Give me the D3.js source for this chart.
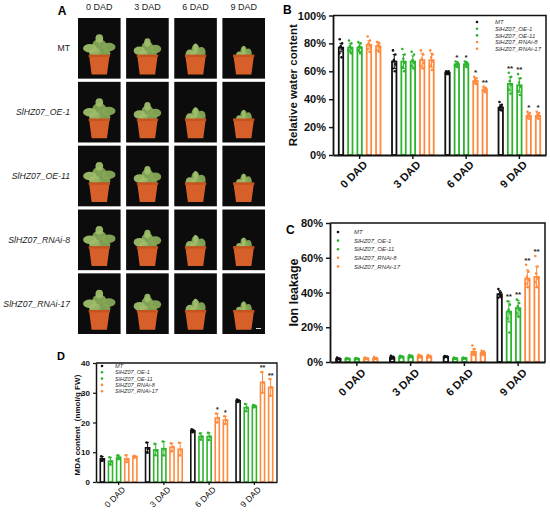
<!DOCTYPE html>
<html><head><meta charset="utf-8">
<script src="https://cdn.jsdelivr.net/npm/d3@7"></script>
<style>body{margin:0;background:#fff}svg{display:block}</style>
</head><body>
<svg id="c" width="550" height="513"></svg>
<script>
// ---------- data ----------
const days = ["0 DAD","3 DAD","6 DAD","9 DAD"];
const lines = ["MT","SlHZ07_OE-1","SlHZ07_OE-11","SlHZ07_RNAi-8","SlHZ07_RNAi-17"];
const lineColors = ["#111111","#2db52d","#2db52d","#ff8a3d","#ff8a3d"];

// B: relative water content (%)
const rwcMean = [[77,77,77,79,78],[67,67,67,68,68],[59,65,65,53,47],[34,51,50,28,28]];
const rwcErr  = [[3,3,3,3,3],[5,5,4,5,5],[1,2,2,2,1.5],[2,5,5,2,2]];
const rwcReps = [
 [[83,80,78,76,73,70],[82,80,78,76,75,73],[81,80,78,77,75,73],[85,82,80,78,76,74],[81,80,79,77,75,74]],
 [[75,72,68,65,62,60],[76,72,69,66,63,60],[74,72,68,66,64,62],[75,72,69,66,64,62],[75,72,70,67,64,61]],
 [[60,60,59,59,58,58],[67,66,65,65,64,63],[67,66,66,65,64,63],[56,55,54,53,52,51],[49,48,47,47,46,45]],
 [[38,36,35,34,33,32],[59,56,53,50,47,44],[58,55,52,49,46,43],[31,30,29,28,27,26],[31,30,29,28,27,26]]
];
const rwcStars = [["","","","",""],["","","","",""],["","*","*","*","**"],["","**","**","*","*"]];

// C: ion leakage (%)
const ionMean = [[1.8,1.8,1.8,2,2],[2.5,3,3.2,3.2,3.1],[3,2,2.1,5.8,5.2],[39,29,31,48,49]];
const ionErr  = [[.4,.3,.3,.4,.5],[.8,.5,.6,.7,.6],[.3,.3,.3,1.8,1],[2,6,4.5,5,6]];
const ionReps = [
 [[2.5,2,1.8,1.5,1.2],[2.3,2,1.8,1.6,1.4],[2.3,2,1.8,1.6,1.4],[2.6,2.2,2,1.8,1.5],[2.8,2.3,2,1.7,1.4]],
 [[3.5,3,2.5,2,1.6],[3.6,3.2,3,2.6,2.3],[4,3.5,3.1,2.7,2.4],[4.2,3.5,3,2.6,2.3],[4,3.5,3,2.6,2.4]],
 [[3.4,3.2,3,2.8,2.6],[2.5,2.2,2,1.8,1.6],[2.6,2.3,2.1,1.9,1.7],[9.5,7.5,6,5,4.5,4],[6.5,6,5.5,5,4.5,4]],
 [[42,40,39,38,37],[35,33,30,28,25,17],[36,34,32,30,28,26],[56,52,49,47,45,43],[61,55,51,48,46,43]]
];
const ionStars = [["","","","",""],["","","","",""],["","","","",""],["","**","**","**","**"]];

// D: MDA content (nmol/g FW)
const mdaMean = [[7.8,7,8.3,7.8,8.5],[11.5,10.8,11.2,11.7,11],[17.2,15.3,15.3,21.5,20.8],[27.3,25,25.5,33.5,31.8]];
const mdaErr  = [[.8,1.3,.7,1.3,.3],[1.8,2,2.4,1.3,2.2],[.5,1.2,1.3,1.5,1.3],[.4,1.2,.4,3.5,2.8]];
const mdaReps = [
 [[8.6,7.6,7.2],[8.3,6.8,6],[9,8.2,7.7],[9,7.6,6.8],[8.8,8.5,8.2]],
 [[13.3,11.2,10],[12.8,10.5,9.1],[13.6,11,9],[13,11.8,10.3],[13.2,10.8,9]],
 [[17.7,17.2,16.7],[16.3,15.3,14.3],[16.5,15.3,14.1],[23,21.5,20],[22.1,20.8,19.5]],
 [[27.7,27.3,26.9],[26.2,25,23.8],[25.9,25.5,25.1],[37,33.5,30],[34.6,31.8,29]]
];
const mdaStars = [["","","","",""],["","","","",""],["","","","*","*"],["","","","**","**"]];

const pctTicks = [0,20,40,60,80,100];
const ionTicks = [0,20,40,60,80];
const mdaTicks = [0,10,20,30,40];

// ---------- drawing ----------
const svg = d3.select("#c");
const defs = svg.append("defs");
const SANS = "Arial, 'Liberation Sans', Helvetica, sans-serif";
let pathId = 0;

// Panel A (photo grid)
const photoCols = d3.scaleBand().domain(days).range([78, 265]).paddingInner(0.115);
const photoRows = d3.scaleBand().domain(lines).range([18, 334]).paddingInner(0.05);
const plantSize = [1, 0.85, 0.62, 0.5];
svg.append("text").attr("x",62).attr("y",15).attr("text-anchor","middle")
  .attr("font-family",SANS).attr("font-weight","bold").attr("font-size",12).text("A");
days.forEach(d => svg.append("text").attr("x",photoCols(d)+photoCols.bandwidth()/2).attr("y",10)
  .attr("text-anchor","middle").attr("font-family",SANS).attr("font-size",9).attr("fill","#222").text(d));
lines.forEach(l => svg.append("text").attr("x",70).attr("y",photoRows(l)+photoRows.bandwidth()/2+3)
  .attr("text-anchor","end").attr("font-family",SANS).attr("font-size",8.7).attr("fill","#222")
  .attr("font-style", l==="MT"?"normal":"italic").text(l));
lines.forEach((l,ri) => days.forEach((d,ci) => {
  const x = photoCols(d), y = photoRows(l), w = photoCols.bandwidth(), h = photoRows.bandwidth();
  const g = svg.append("g").attr("transform",`translate(${x},${y})`);
  g.append("rect").attr("width",w).attr("height",h).attr("fill","#0c0c0c");
  const cx = w/2, s = plantSize[ci];
  const potTop = h*0.62, potBot = h*0.93;
  const leaves = [[0,-0.18,0.16,0.09],[-0.22,-0.12,0.16,0.07],[0.22,-0.14,0.16,0.07],[-0.1,-0.05,0.14,0.07],[0.12,-0.04,0.14,0.07],[0,-0.28,0.09,0.07]];
  g.append("line").attr("x1",cx).attr("x2",cx).attr("y1",potTop).attr("y2",potTop-h*0.28*s)
    .attr("stroke","#6f8f3f").attr("stroke-width",1.2);
  leaves.forEach((lf,k) => {
    const droop = (1-s)*h*0.25;
    g.append("ellipse").attr("cx",cx+lf[0]*w*s).attr("cy",potTop+lf[1]*h*s+ (k%2?droop*0.6:droop*0.3))
      .attr("rx",lf[2]*w*s).attr("ry",lf[3]*h*(s<0.7?1.2:1))
      .attr("fill", k%2 ? "#9fbe6a" : "#86a957").attr("opacity",0.95);
  });
  g.append("path").attr("d",`M${cx-w*0.24},${potTop} L${cx+w*0.24},${potTop} L${cx+w*0.18},${potBot} L${cx-w*0.18},${potBot} Z`)
    .attr("fill","#d7602a");
  g.append("rect").attr("x",cx-w*0.25).attr("y",potTop-1).attr("width",w*0.5).attr("height",2.5).attr("fill","#c4531f");
  if (ri===4 && ci===3) g.append("rect").attr("x",w-9).attr("y",h-6).attr("width",5).attr("height",1).attr("fill","#ddd");
}));

function panel(cfg){
  const y = d3.scaleLinear().domain([0,cfg.yMax]).range([cfg.y0,cfg.yTop]);
  const x0 = d3.scaleBand().domain(days).range([cfg.left,cfg.right]);
  const bw = x0.bandwidth(), pitch = bw*cfg.pitch, barW = bw*cfg.barW;
  const g = svg.append("g");
  g.append("path").attr("d",`M${cfg.left},${cfg.yTop}H${cfg.right}V${cfg.y0}`)
    .attr("fill","none").attr("stroke","#111").attr("stroke-width",cfg.frameW);
  days.forEach((d,di) => lines.forEach((l,li) => {
    const cx = x0(d)+bw/2+(li-2)*pitch, col = lineColors[li];
    const m = cfg.mean[di][li], e = cfg.err[di][li];
    g.append("rect").attr("x",cx-barW/2).attr("y",y(m)).attr("width",barW).attr("height",y(0)-y(m))
      .attr("fill","#fff").attr("stroke",col).attr("stroke-width",cfg.barStroke);
    g.append("line").attr("x1",cx).attr("x2",cx).attr("y1",y(m-e)).attr("y2",y(m+e)).attr("stroke",col).attr("stroke-width",1);
    [m-e,m+e].forEach(v => g.append("line").attr("x1",cx-barW*0.35).attr("x2",cx+barW*0.35)
      .attr("y1",y(v)).attr("y2",y(v)).attr("stroke",col).attr("stroke-width",1));
    const jit = [-1.4,1.2,-0.4,1.6,-1.8,0.6];
    cfg.reps[di][li].forEach((v,k) => g.append("circle").attr("cx",cx+jit[k%jit.length]*cfg.jitter)
      .attr("cy",y(v)).attr("r",cfg.dotR).attr("fill",col));
    const st = cfg.stars[di][li];
    if (st) {
      const top = Math.max(m+e, d3.max(cfg.reps[di][li]));
      g.append("text").attr("x",cx).attr("y",y(top)-cfg.starGap).attr("text-anchor","middle")
        .attr("font-family",SANS).attr("font-weight","bold").attr("font-size",cfg.starFont).attr("fill","#222").text(st);
    }
  }));
  const ya = g.append("g").attr("transform",`translate(${cfg.left},0)`)
    .call(d3.axisLeft(y).tickValues(cfg.ticks).tickSize(cfg.tickLen).tickSizeOuter(0).tickFormat(cfg.fmt));
  ya.select(".domain").attr("stroke","#111").attr("stroke-width",cfg.axisW);
  ya.selectAll(".tick line").attr("stroke","#111").attr("stroke-width",cfg.axisW*0.8);
  ya.selectAll(".tick text").attr("font-family",SANS).attr("font-weight","bold").attr("font-size",cfg.yFont).attr("fill","#111");
  const xa = g.append("g").attr("transform",`translate(0,${cfg.y0})`)
    .call(d3.axisBottom(x0).tickSize(cfg.tickLen).tickSizeOuter(0).tickFormat(""));
  xa.select(".domain").attr("stroke","#111").attr("stroke-width",cfg.axisW);
  xa.selectAll(".tick line").attr("stroke","#111").attr("stroke-width",cfg.axisW*0.8);
  // rotated (-45°) category labels laid along diagonal paths
  days.forEach(d => {
    const tx = x0(d)+bw/2+cfg.xdx, ty = cfg.y0+cfg.xdy, L = 60;
    const id = "xl" + (pathId++);
    defs.append("path").attr("id",id).attr("d",`M${tx-L},${ty+L} L${tx},${ty}`);
    g.append("text").attr("dy","0.7em")
      .attr("font-family",SANS).attr("font-weight",cfg.xBold?"bold":"normal")
      .attr("font-size",cfg.xFont).attr("fill","#111")
      .append("textPath").attr("href","#"+id).attr("startOffset","100%").attr("text-anchor","end").text(d);
  });
  g.append("text").attr("transform",`translate(${cfg.ylx},${(cfg.y0+cfg.yTop)/2}) rotate(-90)`)
    .attr("text-anchor","middle").attr("font-family",SANS).attr("font-weight","bold")
    .attr("font-size",cfg.ylFont).attr("fill","#111").text(cfg.yLabel);
  g.append("text").attr("x",cfg.letter[0]).attr("y",cfg.letter[1]).attr("font-family",SANS)
    .attr("font-weight","bold").attr("font-size",cfg.letter[2]).text(cfg.letter[3]);
  lines.forEach((l,i) => {
    const ly = cfg.leg.y + i*cfg.leg.dy;
    g.append("circle").attr("cx",cfg.leg.x).attr("cy",ly).attr("r",1.3).attr("fill",lineColors[i]);
    g.append("text").attr("x",cfg.leg.tx).attr("y",ly+cfg.leg.font*0.35).attr("font-family",SANS)
      .attr("font-style","italic").attr("font-size",cfg.leg.font).attr("fill","#333").text(l);
  });
}

panel({left:333,right:546,yTop:15.5,y0:155,yMax:100,ticks:pctTicks,fmt:d=>d+"%",
  mean:rwcMean,err:rwcErr,reps:rwcReps,stars:rwcStars,pitch:0.175,barW:0.083,barStroke:1.8,
  dotR:1.3,jitter:0.9,starGap:2,starFont:8,frameW:1.5,axisW:1.8,tickLen:4,yFont:11,xFont:11,xBold:true,
  xdx:3,xdy:5,ylx:297,ylFont:11.5,yLabel:"Relative water content",letter:[283,14,12,"B"],
  leg:{x:477,tx:495,y:22,dy:6.7,font:6}});

panel({left:330,right:545,yTop:223,y0:362,yMax:80,ticks:ionTicks,fmt:d=>d+"%",
  mean:ionMean,err:ionErr,reps:ionReps,stars:ionStars,pitch:0.172,barW:0.083,barStroke:1.8,
  dotR:1.3,jitter:0.9,starGap:2,starFont:8,frameW:1.5,axisW:1.8,tickLen:4,yFont:11,xFont:11,xBold:true,
  xdx:4,xdy:6,ylx:298,ylFont:12.5,yLabel:"Ion leakage",letter:[286,234,12,"C"],
  leg:{x:338,tx:354,y:232,dy:8.6,font:6}});

panel({left:96,right:277,yTop:363,y0:482,yMax:40,ticks:mdaTicks,fmt:d=>d,
  mean:mdaMean,err:mdaErr,reps:mdaReps,stars:mdaStars,pitch:0.18,barW:0.09,barStroke:1.6,
  dotR:1.3,jitter:0.8,starGap:1.5,starFont:7,frameW:1.3,axisW:1.5,tickLen:3,yFont:8,xFont:8.5,xBold:false,
  xdx:3,xdy:4,ylx:80,ylFont:8,yLabel:"MDA content（nmol/g FW）",letter:[57,360,11,"D"],
  leg:{x:102,tx:115,y:366,dy:6.3,font:5.6}});
</script>
</body></html>
